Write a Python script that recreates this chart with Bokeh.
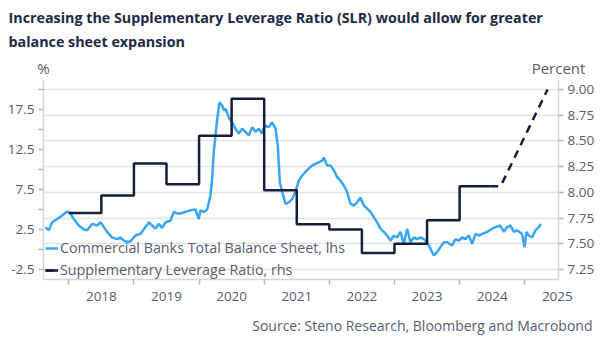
from bokeh.plotting import figure
from bokeh.layouts import column
from bokeh.models import (Range1d, LinearAxis, FixedTicker, CustomJSTickFormatter,
                          NumeralTickFormatter, Grid, Legend, LegendItem, Label)
from bokeh.embed import file_html
from bokeh.resources import INLINE

# ---------------- data ----------------
bs_year = [2017.642, 2017.694, 2017.745, 2017.821, 2017.898, 2017.975, 2018.026, 2018.077, 2018.154, 2018.231,
           2018.282, 2018.359, 2018.435, 2018.487, 2018.538, 2018.589, 2018.666, 2018.743, 2018.794, 2018.845,
           2018.922, 2018.973, 2019.024, 2019.101, 2019.177, 2019.229, 2019.280, 2019.331, 2019.382, 2019.433,
           2019.484, 2019.561, 2019.612, 2019.664, 2019.715, 2019.791, 2019.868, 2019.945, 2019.996, 2020.022,
           2020.073, 2020.124, 2020.175, 2020.201, 2020.226, 2020.252, 2020.278, 2020.314, 2020.354, 2020.380,
           2020.406, 2020.457, 2020.508, 2020.559, 2020.610, 2020.661, 2020.713, 2020.764, 2020.815, 2020.866,
           2020.917, 2020.968, 2021.004, 2021.071, 2021.122, 2021.173, 2021.209, 2021.240, 2021.276, 2021.327,
           2021.378, 2021.429, 2021.480, 2021.531, 2021.583, 2021.634, 2021.685, 2021.736, 2021.787, 2021.838,
           2021.890, 2021.915, 2021.966, 2022.018, 2022.069, 2022.120, 2022.171, 2022.222, 2022.273, 2022.325,
           2022.376, 2022.427, 2022.478, 2022.529, 2022.580, 2022.631, 2022.683, 2022.734, 2022.785, 2022.836,
           2022.887, 2022.938, 2022.990, 2023.041, 2023.092, 2023.143, 2023.194, 2023.245, 2023.297, 2023.348,
           2023.399, 2023.450, 2023.501, 2023.552, 2023.604, 2023.655, 2023.706, 2023.757, 2023.808, 2023.885,
           2023.936, 2023.987, 2024.039, 2024.090, 2024.141, 2024.192, 2024.243, 2024.295, 2024.346, 2024.422,
           2024.499, 2024.550, 2024.627, 2024.678, 2024.729, 2024.781, 2024.832, 2024.882, 2024.959, 2024.995,
           2025.026, 2025.062, 2025.113, 2025.164, 2025.215, 2025.251]
bs_value = [2.8, 2.4, 3.4, 3.8, 4.25, 4.75, 4.5, 3.8, 3.0, 2.5,
            2.4, 3.2, 3.0, 3.4, 2.8, 2.2, 1.5, 1.3, 1.5, 1.1,
            0.9, 1.25, 1.75, 1.95, 2.8, 3.4, 3.0, 2.6, 3.2, 2.7,
            3.4, 3.6, 4.7, 4.5, 4.5, 4.7, 4.9, 5.0, 3.8, 4.9,
            4.7, 5.0, 6.75, 8.8, 12.2, 14.25, 16.3, 18.4, 18.0, 17.4,
            17.6, 16.5, 15.9, 15.1, 14.5, 15.1, 14.7, 14.25, 15.3, 14.7,
            15.1, 14.5, 15.5, 15.3, 15.9, 15.1, 13.0, 8.4, 7.2, 5.7,
            5.9, 6.3, 7.2, 8.6, 9.25, 9.7, 10.1, 10.5, 10.7, 10.9,
            11.1, 11.5, 10.5, 10.5, 9.9, 9.05, 8.6, 8.0, 7.2, 5.7,
            5.5, 5.9, 6.5, 5.5, 5.1, 4.7, 4.05, 3.4, 2.6, 2.2,
            1.75, 1.1, 1.75, 1.5, 2.2, 0.7, 2.6, 0.9, 1.5, 1.3,
            1.5, 1.3, 0.9, 0.1, -0.75, -0.3, 0.3, 0.9, 0.9, 0.5,
            1.3, 1.1, 1.5, 1.3, 1.75, 0.7, 1.95, 1.75, 1.95, 2.2,
            2.6, 2.8, 3.0, 2.2, 2.8, 3.0, 2.2, 2.4, 1.95, 0.3,
            2.2, 1.75, 1.5, 2.4, 2.8, 3.2]

slr_year = [2018.0, 2018.5, 2019.0, 2019.5, 2020.0, 2020.5, 2021.0, 2021.5, 2022.0, 2022.5,
            2023.0, 2023.5, 2024.0, 2024.47]
slr_value = [7.80, 7.97, 8.28, 8.08, 8.55, 8.91, 8.02, 7.69, 7.64, 7.41,
             7.50, 7.73, 8.06, 8.06]

slr_proj_year = [2024.47, 2024.63, 2025.35]
slr_proj_value = [8.06, 8.06, 9.00]

year_ticks = [2018, 2019, 2020, 2021, 2022, 2023, 2024, 2025]
left_ticks = [-2.5, 0, 2.5, 5, 7.5, 10, 12.5, 15, 17.5, 20]
right_ticks = [7.25, 7.50, 7.75, 8.00, 8.25, 8.50, 8.75, 9.00]

title_lines = ["Increasing the Supplementary Leverage Ratio (SLR) would allow for greater",
               "balance sheet expansion"]
lhs_unit = "%"
rhs_unit = "Percent"
source_text = "Source: Steno Research, Bloomberg and Macrobond"
label_bs = "Commercial Banks Total Balance Sheet, lhs"
label_slr = "Supplementary Leverage Ratio, rhs"

# ---------------- style ----------------
FONT = "Open Sans"
BLUE = "#3aa5f5"
NAVY = "#161d3d"
TXT = "#585d71"
TITLE_C = "#1d2948"
AX = "#d6d6d6"
GRID = "#e4e4e4"
W = 602
HEAD_H = 79
FOOT_H = 34
MAIN_H = 344 - HEAD_H - FOOT_H


def blank(h):
    f = figure(width=W, height=h, output_backend="svg", toolbar_location=None,
               x_range=Range1d(0, W), y_range=Range1d(h, 0),
               x_axis_location=None, y_axis_location=None, min_border=0)
    f.frame_align = False
    f.outline_line_color = None
    f.xgrid.visible = False
    f.ygrid.visible = False
    f.border_fill_color = "white"
    f.background_fill_color = "white"
    return f


# ---------------- header ----------------
head = blank(HEAD_H)
head.add_layout(Label(x=8, y=17, text=title_lines[0], text_font=FONT, text_font_size="14.3px",
                      text_font_style="bold", text_color=TITLE_C, text_baseline="middle"))
head.add_layout(Label(x=8, y=41, text=title_lines[1], text_font=FONT, text_font_size="14.3px",
                      text_font_style="bold", text_color=TITLE_C, text_baseline="middle"))
head.add_layout(Label(x=43, y=67, text=lhs_unit, text_font=FONT, text_font_size="15px",
                      text_color=TXT, text_align="center", text_baseline="middle"))
head.add_layout(Label(x=558, y=67, text=rhs_unit, text_font=FONT, text_font_size="15px",
                      text_color=TXT, text_align="center", text_baseline="middle"))

# ---------------- main chart ----------------
p = figure(width=W, height=MAIN_H, output_backend="svg", toolbar_location=None,
           x_range=Range1d(2017.612, 2025.518), y_range=Range1d(-3.75, 21.25),
           min_border_left=43, min_border_right=44, min_border_top=0, min_border_bottom=31)
p.frame_align = False
p.extra_y_ranges = {"rhs": Range1d(7.153, 9.097)}
p.outline_line_color = None
p.background_fill_color = "white"
p.border_fill_color = "white"
p.xgrid.visible = False
p.ygrid.visible = False

xa = p.xaxis[0]
xa.ticker = FixedTicker(ticks=[y + 0.5 for y in year_ticks], minor_ticks=year_ticks)
xa.formatter = CustomJSTickFormatter(code="return Math.floor(tick).toString()")
xa.major_tick_line_color = None
xa.minor_tick_line_color = "#b5b5b5"
xa.minor_tick_line_width = 1.5
xa.minor_tick_out = 5
xa.minor_tick_in = 0
xa.axis_line_color = AX
xa.axis_line_width = 1.5
xa.major_label_text_font = FONT
xa.major_label_text_font_size = "13.5px"
xa.major_label_text_color = TXT
xa.major_label_standoff = 6

ya = p.yaxis[0]
ya.ticker = FixedTicker(ticks=left_ticks, minor_ticks=[])
ya.formatter = CustomJSTickFormatter(
    code="return (Math.abs((tick + 2.5) % 5) < 1e-6) ? tick.toFixed(1) : ''")
ya.major_tick_line_color = "#b5b5b5"
ya.major_tick_line_width = 1.5
ya.major_tick_out = 5
ya.major_tick_in = 0
ya.axis_line_color = AX
ya.axis_line_width = 1.5
ya.major_label_text_font = FONT
ya.major_label_text_font_size = "13.5px"
ya.major_label_text_color = TXT
ya.major_label_standoff = 4

rticker = FixedTicker(ticks=right_ticks, minor_ticks=[])
ra = LinearAxis(y_range_name="rhs", ticker=rticker, formatter=NumeralTickFormatter(format="0.00"))
ra.major_tick_line_color = "#b5b5b5"
ra.major_tick_line_width = 1.5
ra.major_tick_out = 5
ra.major_tick_in = 0
ra.axis_line_color = AX
ra.axis_line_width = 1.5
ra.major_label_text_font = FONT
ra.major_label_text_font_size = "13.5px"
ra.major_label_text_color = TXT
ra.major_label_standoff = 4
p.add_layout(ra, "right")

p.add_layout(Grid(dimension=1, ticker=rticker, y_range_name="rhs",
                  grid_line_color=GRID, grid_line_width=1.5))

r_bs = p.line(bs_year, bs_value, line_color=BLUE, line_width=2.5)
r_slr = p.step(slr_year, slr_value, mode="after", y_range_name="rhs",
               line_color=NAVY, line_width=2.5)
r_proj = p.line(slr_proj_year, slr_proj_value, y_range_name="rhs",
                line_color=NAVY, line_width=2.5, line_dash="8 6")

legend = Legend(items=[LegendItem(label=label_bs, renderers=[r_bs]),
                       LegendItem(label=label_slr, renderers=[r_slr, r_proj])],
                location=(2, 0), orientation="vertical",
                background_fill_alpha=0, border_line_color=None,
                padding=0, margin=0, spacing=3,
                glyph_width=13, glyph_height=16, label_height=18, label_standoff=2,
                label_text_font=FONT, label_text_font_size="14.3px", label_text_color=TXT)
p.add_layout(legend)

# ---------------- footer ----------------
foot = blank(FOOT_H)
foot.add_layout(Label(x=592, y=15, text=source_text, text_font=FONT, text_font_size="14px",
                      text_color=TXT, text_align="right", text_baseline="middle"))

layout = column(head, p, foot, spacing=0)
open("out.html", "w").write(file_html(layout, INLINE))
